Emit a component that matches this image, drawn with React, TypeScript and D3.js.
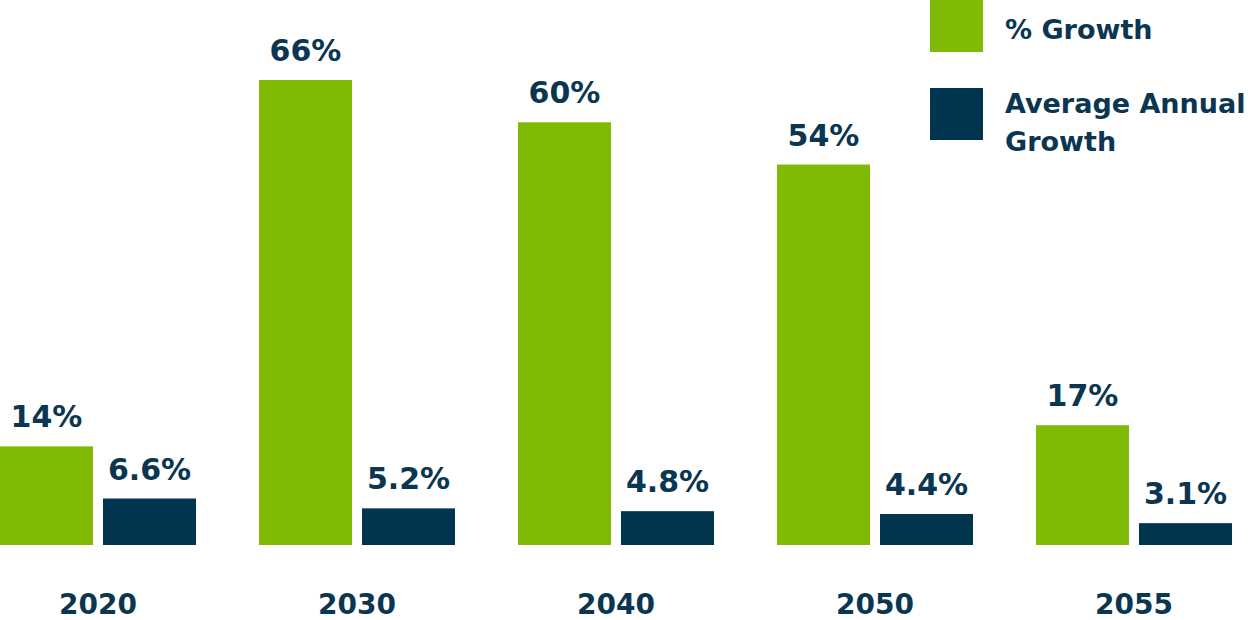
import React from "react";
import * as d3 from "d3";

const years = ["2020", "2030", "2040", "2050", "2055"];
const growth = [14, 66, 60, 54, 17];
const annual = [6.6, 5.2, 4.8, 4.4, 3.1];
const growthLabels = ["14%", "66%", "60%", "54%", "17%"];
const annualLabels = ["6.6%", "5.2%", "4.8%", "4.4%", "3.1%"];
const seriesKeys = ["growth", "annual"];
const legendLabels = [["% Growth"], ["Average Annual", "Growth"]];

const GREEN = "#80BA05";
const NAVY = "#00344F";
const TEXT = "#0A3652";
const FONT = "'DejaVu Sans', sans-serif";

export default function App() {
  const W = 1248;
  const H = 620;
  const baseline = 545;

  const x0 = d3.scaleBand<string>().domain(years).range([0, 1232]).paddingInner(63 / 259).paddingOuter(0);
  const x1 = d3.scaleBand<string>().domain(seriesKeys).range([0, x0.bandwidth()]).paddingInner(10 / 103).paddingOuter(0);
  const y = d3.scaleLinear().domain([0, 66]).range([baseline, 80]);

  const series = [
    { key: "growth", values: growth, labels: growthLabels, color: GREEN },
    { key: "annual", values: annual, labels: annualLabels, color: NAVY },
  ];

  return (
    <svg
      width={W}
      height={H}
      style={{ position: "absolute", left: 0, top: 0, background: "#fff" }}
      fontFamily={FONT}
    >
      {years.map((yr, i) => (
        <g key={yr} transform={`translate(${x0(yr)},0)`}>
          {series.map((s) => {
            const v = s.values[i];
            const bx = x1(s.key)!;
            const bw = x1.bandwidth();
            return (
              <g key={s.key}>
                <rect x={bx} y={y(v)} width={bw} height={baseline - y(v)} fill={s.color} />
                <text
                  x={bx + bw / 2}
                  y={y(v) - 19}
                  textAnchor="middle"
                  fontSize={30}
                  fontWeight="bold"
                  fill={TEXT}
                >
                  {s.labels[i]}
                </text>
              </g>
            );
          })}
          <text
            x={x0.bandwidth() / 2}
            y={614}
            textAnchor="middle"
            fontSize={28}
            fontWeight="bold"
            fill={TEXT}
          >
            {yr}
          </text>
        </g>
      ))}
      <g>
        {series.map((s, i) => (
          <g key={s.key} transform={`translate(930,${i * 88})`}>
            <rect x={0} y={0} width={53} height={52} fill={s.color} />
            {legendLabels[i].map((line, j) => (
              <text
                key={j}
                x={75}
                y={(i === 0 ? 39 : 25) + j * 38}
                fontSize={27}
                fontWeight="bold"
                fill={TEXT}
              >
                {line}
              </text>
            ))}
          </g>
        ))}
      </g>
    </svg>
  );
}
